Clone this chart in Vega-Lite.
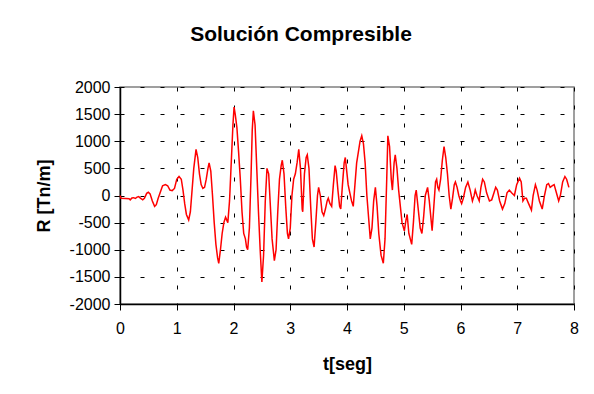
{
  "$schema": "https://vega.github.io/schema/vega-lite/v6.json",
  "autosize": "none",
  "width": 454,
  "height": 217,
  "padding": {"left": 120, "top": 87, "right": 20, "bottom": 90},
  "background": "white",
  "config": {
    "font": "Liberation Sans",
    "view": {"stroke": "#808080", "strokeWidth": 1.5}
  },
  "title": {
    "text": "Solución Compresible",
    "font": "Liberation Sans",
    "fontSize": 21,
    "fontWeight": "bold",
    "color": "black",
    "anchor": "middle",
    "frame": "group",
    "baseline": "alphabetic",
    "offset": 17,
    "dx": -46
  },
  "data": {
    "values": [
      {"t":0,"R":0},{"t":0.02,"R":-50},{"t":0.1,"R":-55},{"t":0.16,"R":-60},{"t":0.18,"R":-80},{"t":0.21,"R":-45},{"t":0.24,"R":-40},{"t":0.27,"R":-55},{"t":0.3,"R":-30},{"t":0.33,"R":-20},{"t":0.36,"R":-50},{"t":0.4,"R":-80},{"t":0.43,"R":-50},{"t":0.47,"R":40},{"t":0.5,"R":60},{"t":0.53,"R":30},{"t":0.57,"R":-100},{"t":0.61,"R":-200},{"t":0.64,"R":-170},{"t":0.67,"R":-60},{"t":0.71,"R":60},{"t":0.75,"R":180},{"t":0.8,"R":200},{"t":0.84,"R":180},{"t":0.88,"R":100},{"t":0.92,"R":90},{"t":0.96,"R":130},{"t":1.0,"R":300},{"t":1.04,"R":350},{"t":1.08,"R":300},{"t":1.11,"R":100},{"t":1.14,"R":-150},{"t":1.17,"R":-350},{"t":1.21,"R":-450},{"t":1.24,"R":-300},{"t":1.27,"R":100},{"t":1.3,"R":500},{"t":1.34,"R":850},{"t":1.37,"R":700},{"t":1.4,"R":400},{"t":1.43,"R":200},{"t":1.46,"R":130},{"t":1.49,"R":150},{"t":1.52,"R":300},{"t":1.55,"R":500},{"t":1.57,"R":600},{"t":1.6,"R":450},{"t":1.63,"R":0},{"t":1.66,"R":-500},{"t":1.69,"R":-900},{"t":1.72,"R":-1150},{"t":1.74,"R":-1250},{"t":1.77,"R":-1000},{"t":1.8,"R":-700},{"t":1.83,"R":-500},{"t":1.86,"R":-400},{"t":1.88,"R":-450},{"t":1.9,"R":-500},{"t":1.93,"R":-100},{"t":1.96,"R":600},{"t":1.99,"R":1300},{"t":2.01,"R":1630},{"t":2.03,"R":1500},{"t":2.06,"R":1250},{"t":2.09,"R":800},{"t":2.12,"R":300},{"t":2.15,"R":-300},{"t":2.18,"R":-700},{"t":2.21,"R":-800},{"t":2.23,"R":-950},{"t":2.25,"R":-1000},{"t":2.28,"R":-600},{"t":2.31,"R":400},{"t":2.33,"R":1200},{"t":2.35,"R":1560},{"t":2.38,"R":1300},{"t":2.41,"R":500},{"t":2.44,"R":-300},{"t":2.47,"R":-1000},{"t":2.5,"R":-1595},{"t":2.53,"R":-1100},{"t":2.56,"R":-100},{"t":2.59,"R":500},{"t":2.62,"R":400},{"t":2.65,"R":-200},{"t":2.68,"R":-800},{"t":2.72,"R":-1200},{"t":2.75,"R":-1000},{"t":2.78,"R":-300},{"t":2.81,"R":300},{"t":2.84,"R":550},{"t":2.86,"R":650},{"t":2.89,"R":400},{"t":2.92,"R":-200},{"t":2.95,"R":-700},{"t":2.97,"R":-800},{"t":3.0,"R":-600},{"t":3.03,"R":0},{"t":3.06,"R":300},{"t":3.09,"R":400},{"t":3.12,"R":600},{"t":3.15,"R":850},{"t":3.18,"R":500},{"t":3.21,"R":-250},{"t":3.22,"R":-300},{"t":3.25,"R":400},{"t":3.28,"R":700},{"t":3.3,"R":750},{"t":3.33,"R":500},{"t":3.36,"R":-200},{"t":3.39,"R":-800},{"t":3.42,"R":-950},{"t":3.45,"R":-500},{"t":3.48,"R":0},{"t":3.5,"R":150},{"t":3.53,"R":0},{"t":3.56,"R":-300},{"t":3.59,"R":-370},{"t":3.62,"R":-250},{"t":3.65,"R":-100},{"t":3.67,"R":-50},{"t":3.7,"R":-150},{"t":3.73,"R":-200},{"t":3.76,"R":200},{"t":3.79,"R":550},{"t":3.81,"R":450},{"t":3.84,"R":100},{"t":3.87,"R":-200},{"t":3.89,"R":-250},{"t":3.92,"R":200},{"t":3.95,"R":600},{"t":3.97,"R":700},{"t":3.99,"R":500},{"t":4.02,"R":200},{"t":4.05,"R":50},{"t":4.08,"R":-100},{"t":4.11,"R":-200},{"t":4.14,"R":200},{"t":4.17,"R":600},{"t":4.2,"R":800},{"t":4.23,"R":1000},{"t":4.26,"R":1100},{"t":4.29,"R":950},{"t":4.32,"R":600},{"t":4.35,"R":0},{"t":4.38,"R":-400},{"t":4.41,"R":-800},{"t":4.44,"R":-600},{"t":4.47,"R":-100},{"t":4.5,"R":150},{"t":4.53,"R":-200},{"t":4.56,"R":-700},{"t":4.6,"R":-1100},{"t":4.64,"R":-1250},{"t":4.67,"R":-800},{"t":4.7,"R":300},{"t":4.72,"R":1100},{"t":4.75,"R":900},{"t":4.78,"R":300},{"t":4.8,"R":100},{"t":4.83,"R":600},{"t":4.85,"R":750},{"t":4.88,"R":500},{"t":4.91,"R":100},{"t":4.94,"R":-200},{"t":4.97,"R":-500},{"t":5.01,"R":-650},{"t":5.04,"R":-450},{"t":5.06,"R":-350},{"t":5.09,"R":-700},{"t":5.14,"R":-900},{"t":5.17,"R":-500},{"t":5.2,"R":0},{"t":5.22,"R":100},{"t":5.25,"R":-200},{"t":5.29,"R":-600},{"t":5.32,"R":-700},{"t":5.35,"R":-400},{"t":5.38,"R":0},{"t":5.42,"R":150},{"t":5.45,"R":-100},{"t":5.5,"R":-650},{"t":5.53,"R":-200},{"t":5.56,"R":250},{"t":5.58,"R":300},{"t":5.6,"R":150},{"t":5.62,"R":100},{"t":5.65,"R":300},{"t":5.68,"R":650},{"t":5.71,"R":900},{"t":5.74,"R":700},{"t":5.77,"R":400},{"t":5.8,"R":0},{"t":5.83,"R":-250},{"t":5.86,"R":-50},{"t":5.89,"R":200},{"t":5.91,"R":250},{"t":5.94,"R":150},{"t":5.97,"R":0},{"t":6.0,"R":-100},{"t":6.02,"R":-150},{"t":6.05,"R":-50},{"t":6.09,"R":150},{"t":6.13,"R":250},{"t":6.17,"R":100},{"t":6.21,"R":-100},{"t":6.24,"R":0},{"t":6.26,"R":100},{"t":6.29,"R":0},{"t":6.33,"R":-100},{"t":6.36,"R":150},{"t":6.39,"R":300},{"t":6.42,"R":250},{"t":6.46,"R":50},{"t":6.51,"R":-100},{"t":6.55,"R":-80},{"t":6.59,"R":50},{"t":6.62,"R":150},{"t":6.65,"R":100},{"t":6.69,"R":-100},{"t":6.74,"R":-250},{"t":6.78,"R":-150},{"t":6.82,"R":50},{"t":6.86,"R":100},{"t":6.9,"R":50},{"t":6.95,"R":0},{"t":6.99,"R":200},{"t":7.04,"R":320},{"t":7.07,"R":250},{"t":7.1,"R":-100},{"t":7.13,"R":-50},{"t":7.16,"R":-50},{"t":7.2,"R":-150},{"t":7.25,"R":-270},{"t":7.28,"R":0},{"t":7.32,"R":200},{"t":7.35,"R":100},{"t":7.39,"R":-100},{"t":7.44,"R":-250},{"t":7.48,"R":0},{"t":7.52,"R":200},{"t":7.55,"R":220},{"t":7.58,"R":150},{"t":7.62,"R":180},{"t":7.65,"R":200},{"t":7.69,"R":50},{"t":7.73,"R":-100},{"t":7.76,"R":0},{"t":7.8,"R":250},{"t":7.84,"R":350},{"t":7.87,"R":300},{"t":7.91,"R":150}
    ]
  },
  "mark": {"type": "line", "color": "#FF0000", "strokeWidth": 1.5, "interpolate": "linear"},
  "encoding": {
    "x": {
      "field": "t",
      "type": "quantitative",
      "scale": {"domain": [0, 8], "nice": false, "zero": false},
      "axis": {
        "title": "t[seg]",
        "values": [0, 1, 2, 3, 4, 5, 6, 7, 8],
        "labelExpr": "'' + datum.value",
        "labelFont": "Liberation Sans",
        "labelFontSize": 16,
        "labelColor": "black",
        "labelPadding": 10,
        "labelFlush": false,
        "tickSize": 6,
        "tickColor": "black",
        "domainColor": "black",
        "domainWidth": 1.5,
        "grid": true,
        "gridColor": "black",
        "gridDash": [4, 14],
        "gridWidth": 1,
        "titleFont": "Liberation Sans",
        "titleFontSize": 18,
        "titleFontWeight": "bold",
        "titleColor": "black",
        "titlePadding": 19
      }
    },
    "y": {
      "field": "R",
      "type": "quantitative",
      "scale": {"domain": [-2000, 2000], "nice": false, "zero": false},
      "axis": {
        "title": "R [Tn/m]",
        "values": [-2000, -1500, -1000, -500, 0, 500, 1000, 1500, 2000],
        "labelExpr": "'' + datum.value",
        "labelFont": "Liberation Sans",
        "labelFontSize": 16,
        "labelColor": "black",
        "labelPadding": 4,
        "labelFlush": false,
        "tickSize": 6,
        "tickColor": "black",
        "domainColor": "black",
        "domainWidth": 1.5,
        "grid": true,
        "gridColor": "black",
        "gridDash": [4, 16],
        "gridWidth": 1,
        "titleFont": "Liberation Sans",
        "titleFontSize": 18,
        "titleFontWeight": "bold",
        "titleColor": "black",
        "titlePadding": 16
      }
    }
  }
}
